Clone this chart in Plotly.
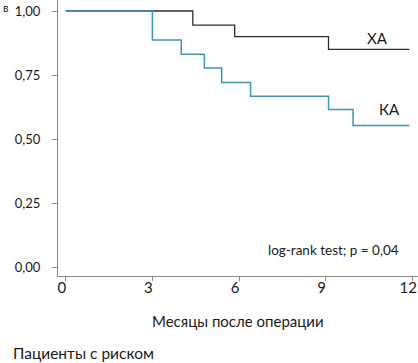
import plotly.graph_objects as go

# Step survival data (months, survival proportion)
xa_time = [0, 4.4, 5.85, 9.1, 11.9]
xa_surv = [1.0, 0.945, 0.90, 0.85, 0.85]
ka_time = [0, 3.0, 4.0, 4.8, 5.4, 6.4, 9.1, 9.95, 11.9]
ka_surv = [1.0, 0.887, 0.831, 0.777, 0.721, 0.667, 0.615, 0.553, 0.553]

x_ticks = [0, 3, 6, 9, 12]
y_ticks = [0, 0.25, 0.5, 0.75, 1.0]
y_tick_labels = ["0,00", "0,25", "0,50", "0,75", "1,00"]

FONT = "Lato"
fig = go.Figure()
fig.add_trace(go.Scatter(x=xa_time, y=xa_surv, mode="lines", line_shape="hv",
                         line=dict(color="#2e2e2e", width=1.3), name="ХА"))
fig.add_trace(go.Scatter(x=ka_time, y=ka_surv, mode="lines", line_shape="hv",
                         line=dict(color="#3f95b5", width=1.5), name="КА"))

fig.update_layout(
    width=418, height=363,
    margin=dict(l=58, r=0, t=0, b=87),
    paper_bgcolor="white", plot_bgcolor="white",
    showlegend=False,
    font=dict(family=FONT, color="#1a1a1a"),
    xaxis=dict(range=[-0.27, 12.2], tickvals=x_ticks, ticks="outside", ticklen=4,
               tickcolor="#888", showline=True, linecolor="#888", linewidth=1,
               showgrid=False, zeroline=False, tickfont=dict(size=15, family=FONT),
               ticklabelstandoff=-6, ticklabelshift=-4, ticklabeloverflow="allow"),
    yaxis=dict(range=[-0.035, 1.043], tickvals=y_ticks, ticktext=y_tick_labels,
               ticks="outside", ticklen=5, tickcolor="#888", showline=True,
               linecolor="#888", linewidth=1, showgrid=False, zeroline=False,
               tickfont=dict(size=13, family=FONT), ticklabelstandoff=9),
)

fig.add_annotation(x=10.8, y=0.894, text="ХА", showarrow=False, font=dict(size=15, family=FONT))
fig.add_annotation(x=11.2, y=0.617, text="КА", showarrow=False, font=dict(size=15, family=FONT))
fig.add_annotation(x=11.6, y=0.066, text="log-rank test; p = 0,04", showarrow=False,
                   xanchor="right", yanchor="middle", font=dict(size=13.5, family=FONT))
fig.add_annotation(xref="paper", yref="paper", x=0.5, y=-0.163, xanchor="center",
                   yanchor="middle", text="Месяцы после операции", showarrow=False,
                   font=dict(size=15, family=FONT))
fig.add_annotation(xref="paper", yref="paper", x=-0.13, y=-0.279, xanchor="left",
                   yanchor="middle", text="Пациенты с риском", showarrow=False,
                   font=dict(size=15.5, family=FONT))
fig.add_annotation(xref="paper", yref="paper", x=-0.145, y=0.972, xanchor="center",
                   yanchor="middle", text="в", showarrow=False,
                   font=dict(size=11, family=FONT))

fig.write_html("out.html", config={"displayModeBar": False},
               post_script="document.body.style.margin='0';document.body.style.overflow='hidden';")
